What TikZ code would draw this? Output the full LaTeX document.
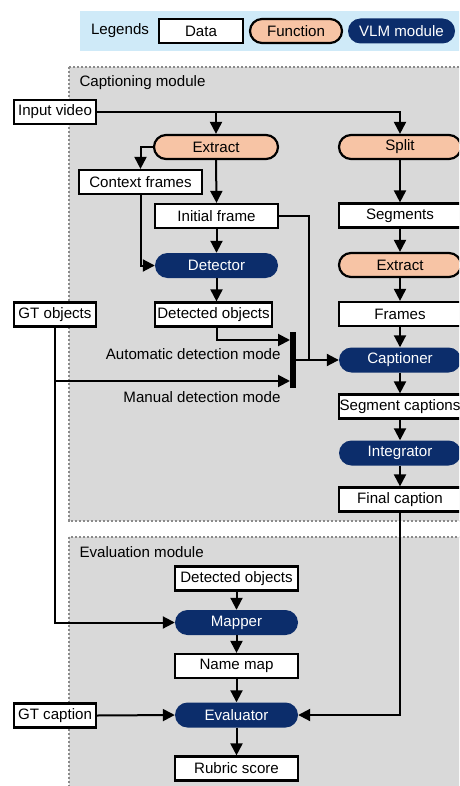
\documentclass[tikz,border=0pt]{standalone}
\usepackage{fontspec}
\setmainfont{Liberation Sans}
\usetikzlibrary{arrows.meta,calc}
\definecolor{funcfill}{HTML}{F7C4A5}
\definecolor{vlmfill}{HTML}{0C2D6B}
\definecolor{legendbg}{HTML}{CFEAF8}
\definecolor{modgray}{HTML}{D9D9D9}
\definecolor{dotgray}{HTML}{8A8A8A}
\begin{document}
\begin{tikzpicture}[x=1pt,y=-1pt,
  font=\fontsize{15.1}{16}\selectfont,
  databox/.style={draw=black, line width=2.2pt, fill=white, minimum height=24pt, inner sep=0pt},
  funcbox/.style={draw=black, line width=2.2pt, fill=funcfill, rounded corners=12pt, minimum height=24pt, inner sep=0pt},
  vlmbox/.style={fill=vlmfill, text=white, rounded corners=12.5pt, minimum height=25pt, inner sep=0pt},
  arr/.style={line width=2pt, -{Triangle[length=12pt,width=12pt]}},
  wire/.style={line width=2pt},
  module/.style={fill=modgray, draw=dotgray, line width=2.2pt, dash pattern=on 2.2pt off 1.8pt},
]
\useasboundingbox (0,0) rectangle (459,786);
\clip (0,0) rectangle (459,786);
\fill[white] (0,0) rectangle (459,786);

% legend strip
\fill[legendbg] (80,11) rectangle (470,51);
\node (leg) at (120,31) {Legends};
\node[databox, minimum width=84pt] (legdata) at (201,31) {Data};
\node[funcbox, minimum width=92pt] (legfunc) at (296,31) {Function};
\node[vlmbox, minimum width=107pt] (legvlm) at (401.5,31) {VLM module};

% module frames
\path[module] (69,67) rectangle (480,521);
\node[anchor=west] (captitle) at (76,83) {Captioning module};
\path[module] (69,537) rectangle (480,800);
\node[anchor=west] (evaltitle) at (76,552) {Evaluation module};

% captioning: left branch
\node[databox, minimum width=82pt] (iv) at (55,112) {Input video};
\node[funcbox, minimum width=124pt] (ext1) at (216,147) {Extract};
\node[databox, minimum width=123pt] (ctx) at (140.5,182) {Context frames};
\node[databox, minimum width=123pt] (init) at (216.5,216) {Initial frame};
\node[vlmbox, minimum width=123pt] (det) at (216.5,265.5) {Detector};
\node[databox, minimum width=117pt] (detobj) at (213.5,314.5) {Detected objects};
\node[databox, minimum width=82pt] (gto) at (55,314.5) {GT objects};
\node[fill=black, minimum width=6pt, minimum height=56pt, inner sep=0pt] (bar) at (293,360) {};
\coordinate (autoin) at (290,340);
\coordinate (manin) at (290,381);
\coordinate (jn) at (309,360);
\node[anchor=east] (autolab) at (284,354) {Automatic detection mode};
\node[anchor=east] (manlab) at (284,397) {Manual detection mode};

% captioning: right branch
\node[funcbox, minimum width=122pt] (split) at (400,147) {Split};
\node[databox, minimum width=122pt] (segs) at (400,215.5) {Segments};
\node[funcbox, minimum width=122pt] (ext2) at (400,265) {Extract};
\node[databox, minimum width=122pt] (frames) at (400,314) {Frames};
\node[vlmbox, minimum width=122pt] (capt) at (400,360) {Captioner};
\node[databox, minimum width=122pt] (segcap) at (400,406.5) {Segment captions};
\node[vlmbox, minimum width=122pt] (integ) at (400,453) {Integrator};
\node[databox, minimum width=122pt] (final) at (400,499.5) {Final caption};

% evaluation
\node[databox, minimum width=123pt] (detobj2) at (236.5,578.5) {Detected objects};
\node[vlmbox, minimum width=123pt] (mapper) at (236.5,622.5) {Mapper};
\node[databox, minimum width=123pt] (namemap) at (236.5,666) {Name map};
\node[vlmbox, minimum width=123pt] (eval) at (236.5,715) {Evaluator};
\node[databox, minimum width=82pt] (gtcap) at (55,715.5) {GT caption};
\node[databox, minimum width=123pt] (rubric) at (236.5,768.5) {Rubric score};

% connectors
\draw[arr] (iv.east) -| (split.north);
\draw[arr] (ext1.north |- iv.east) -- (ext1.north);
\draw[arr] (ext1.west) -| (ctx.north);
\draw[arr] (ext1.south) -- (init.north);
\draw[arr] (ctx.south) |- (det.west);
\draw[arr] (init.south) -- (det.north);
\draw[arr] (det.south) -- (det.south |- detobj.north);
\draw[arr] (det.south |- detobj.south) |- (autoin);
\draw[arr] (gto.south |- manin) -- (manin);
\draw[arr] (gto.south) |- (mapper.west);
\draw[wire] (init.east) -| (jn);
\draw[arr] (bar.east) -- (capt.west);

\draw[arr] (split.south) -- (segs.north);
\draw[arr] (segs.south) -- (ext2.north);
\draw[arr] (ext2.south) -- (frames.north);
\draw[arr] (frames.south) -- (capt.north);
\draw[arr] (capt.south) -- (segcap.north);
\draw[arr] (segcap.south) -- (integ.north);
\draw[arr] (integ.south) -- (final.north);
\draw[arr] (final.south) |- (eval.east);

\draw[arr] (detobj2.south) -- (mapper.north);
\draw[arr] (mapper.south) -- (namemap.north);
\draw[arr] (namemap.south) -- (eval.north);
\draw[arr] (gtcap.east) -- (eval.west);
\draw[arr] (eval.south) -- (rubric.north);
\end{tikzpicture}
\end{document}
